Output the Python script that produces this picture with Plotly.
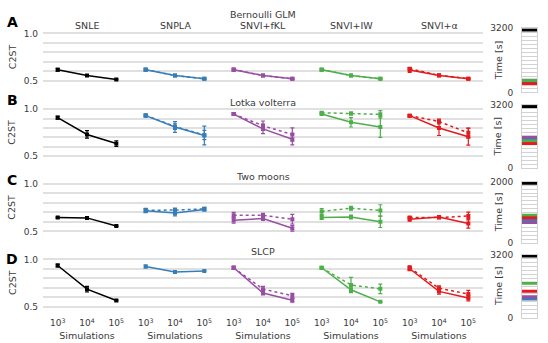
import plotly.graph_objects as go

W, H = 548, 343
FONT = "DejaVu Sans"

# ── Data ────────────────────────────────────
SIMS = [1e3, 1e4, 1e5]
SIM_TICKS = ["10<sup>3</sup>", "10<sup>4</sup>", "10<sup>5</sup>"]
TASKS = ["Bernoulli GLM", "Lotka volterra", "Two moons", "SLCP"]
PANELS = ["A", "B", "C", "D"]
METHODS = ["SNLE", "SNPLA", "SNVI+fKL", "SNVI+IW", "SNVI+α"]
COLORS = ["#000000", "#377eb8", "#984ea3", "#4daf4a", "#e41a1c"]

# C2ST, solid lines, method order as METHODS
GLM_SOLID = [[0.618, 0.557, 0.516], [0.618, 0.557, 0.523], [0.618, 0.557, 0.523],
             [0.618, 0.557, 0.523], [0.615, 0.557, 0.523]]
GLM_SOLID_ERR = [[0.015, 0.004, 0.004], [0.015, 0.005, 0.005], [0.015, 0.004, 0.005],
                 [0.012, 0.004, 0.004], [0.025, 0.005, 0.006]]
GLM_DOTTED = [None, [0.62, 0.558, 0.524], [0.62, 0.558, 0.524],
              [0.62, 0.558, 0.524], [0.63, 0.56, 0.525]]
GLM_DOTTED_ERR = [None, [0.01, 0.004, 0.004], [0.01, 0.004, 0.004],
                  [0.01, 0.004, 0.004], [0.01, 0.005, 0.005]]

LV_SOLID = [[0.910, 0.731, 0.634], [0.931, 0.81, 0.72], [0.948, 0.79, 0.68],
            [0.948, 0.86, 0.81], [0.931, 0.80, 0.707]]
LV_SOLID_ERR = [[0.015, 0.04, 0.03], [0.015, 0.057, 0.1], [0.01, 0.05, 0.06],
                [0.01, 0.05, 0.11], [0.01, 0.08, 0.09]]
LV_DOTTED = [None, [0.935, 0.815, 0.725], [0.948, 0.824, 0.73],
             [0.962, 0.955, 0.945], [0.931, 0.869, 0.748]]
LV_DOTTED_ERR = [None, [0.01, 0.03, 0.05], [0.01, 0.05, 0.07],
                 [0.01, 0.015, 0.04], [0.01, 0.025, 0.05]]

TM_SOLID = [[0.646, 0.643, 0.558], [0.718, 0.694, 0.731], [0.619, 0.636, 0.534],
            [0.646, 0.653, 0.602], [0.629, 0.653, 0.585]]
TM_SOLID_ERR = [[0.005, 0.005, 0.004], [0.02, 0.03, 0.015], [0.03, 0.02, 0.03],
                [0.02, 0.02, 0.06], [0.02, 0.01, 0.05]]
TM_DOTTED = [None, [0.724, 0.725, 0.738], [0.67, 0.67, 0.629],
             [0.711, 0.745, 0.721], [0.646, 0.646, 0.663]]
TM_DOTTED_ERR = [None, [0.02, 0.02, 0.015], [0.03, 0.02, 0.05],
                 [0.03, 0.02, 0.06], [0.01, 0.01, 0.04]]

SLCP_SOLID = [[0.935, 0.685, 0.565], [0.925, 0.866, 0.877], [0.911, 0.644, 0.568],
              [0.911, 0.678, 0.551], [0.901, 0.661, 0.592]]
SLCP_SOLID_ERR = [[0.015, 0.03, 0.005], [0.015, 0.01, 0.005], [0.015, 0.02, 0.02],
                  [0.01, 0.02, 0.005], [0.02, 0.03, 0.03]]
SLCP_DOTTED = [None, None, [0.911, 0.685, 0.616],
               [0.911, 0.729, 0.688], [0.911, 0.695, 0.633]]
SLCP_DOTTED_ERR = [None, None, [0.015, 0.03, 0.025],
                   [0.01, 0.08, 0.05], [0.02, 0.025, 0.04]]

# Run times [s], method order as METHODS
TIME_MAX = [3200, 3200, 2000, 3200]
TIME_GLM = [3120, 440, 600, 598, 436]
TIME_LV = [3120, 1470, 1568, 1374, 1244]
TIME_TM = [1950, 749, 667, 903, 820]
TIME_SLCP = [3120, 942, 1056, 1738, 1332]

SOLID = [GLM_SOLID, LV_SOLID, TM_SOLID, SLCP_SOLID]
SOLID_ERR = [GLM_SOLID_ERR, LV_SOLID_ERR, TM_SOLID_ERR, SLCP_SOLID_ERR]
DOTTED = [GLM_DOTTED, LV_DOTTED, TM_DOTTED, SLCP_DOTTED]
DOTTED_ERR = [GLM_DOTTED_ERR, LV_DOTTED_ERR, TM_DOTTED_ERR, SLCP_DOTTED_ERR]
TIMES = [TIME_GLM, TIME_LV, TIME_TM, TIME_SLCP]

# ── Geometry (pixels) ───────────────────────
ROW_TOP = [29.3, 107.3, 184.3, 262.0]     # y = 1.0
ROW_BOT = [78.3, 155.7, 233.3, 310.7]     # y = 0.5
TIME_BOX = [(24, 90), (103, 168), (182, 245), (257, 322)]
COL_X0, COL_W = 43, 88
TIME_X = (522, 537)

GRID = "#e0e0e0"
BOX = "#d2d2d2"
TXT = "#3a3a3a"


def px_x(a, b):
    return [a / W, b / W]


def px_y(top, bot):
    return [1 - bot / H, 1 - top / H]


fig = go.Figure()
layout = {}
ax = 0

for r in range(4):
    span = ROW_BOT[r] - ROW_TOP[r]
    ydom = px_y(ROW_TOP[r] - 0.1 * span, ROW_BOT[r] + 0.1 * span)
    for c in range(5):
        ax += 1
        xn, yn = f"x{ax}", f"y{ax}"
        color = COLORS[c]
        dotted = DOTTED[r][c]
        if dotted is not None:
            fig.add_trace(go.Scatter(
                x=SIMS, y=dotted, xaxis=xn, yaxis=yn, mode="lines+markers",
                line=dict(color=color, width=1.5, dash="dot"),
                marker=dict(symbol="square", size=4, color=color),
                error_y=dict(type="data", array=DOTTED_ERR[r][c], color=color,
                             thickness=1.2, width=2),
                showlegend=False, hoverinfo="skip",
            ))
        fig.add_trace(go.Scatter(
            x=SIMS, y=SOLID[r][c], xaxis=xn, yaxis=yn, mode="lines+markers",
            line=dict(color=color, width=1.5),
            marker=dict(symbol="square", size=4, color=color),
            error_y=dict(type="data", array=SOLID_ERR[r][c], color=color,
                         thickness=1.2, width=2),
            showlegend=False, hoverinfo="skip",
        ))
        x0 = COL_X0 + COL_W * c
        bottom = r == 3
        layout[f"xaxis{ax}"] = dict(
            domain=px_x(x0, x0 + COL_W), anchor=yn, type="log", range=[2.5, 5.5],
            showgrid=False, zeroline=False, showline=False,
            tickvals=SIMS, ticktext=SIM_TICKS, showticklabels=bottom, ticks="",
            ticklabelstandoff=5,
            tickfont=dict(size=9, color=TXT, family=FONT),
            title=dict(text="Simulations" if bottom else None, standoff=4,
                       font=dict(size=9.5, color=TXT, family=FONT)),
        )
        layout[f"yaxis{ax}"] = dict(
            domain=ydom, anchor=xn, range=[0.45, 1.05],
            tickvals=[0.5, 1.0], ticktext=["0.5", "1.0"],
            showticklabels=(c == 0), ticks="", ticklabelstandoff=4,
            showgrid=True, gridcolor=GRID, gridwidth=1.5,
            minor=dict(tick0=0.5, dtick=0.1, showgrid=True, gridcolor=GRID, gridwidth=1.5),
            zeroline=False, showline=False,
            tickfont=dict(size=9, color=TXT, family=FONT),
        )

    # time column
    ax += 1
    xn, yn = f"x{ax}", f"y{ax}"
    tmax = TIME_MAX[r]
    for c in range(5):
        t = TIMES[r][c]
        fig.add_trace(go.Scatter(
            x=[0, 1], y=[t, t], xaxis=xn, yaxis=yn, mode="lines",
            line=dict(color=COLORS[c], width=3),
            showlegend=False, hoverinfo="skip",
        ))
    layout[f"xaxis{ax}"] = dict(
        domain=px_x(*TIME_X), anchor=yn, range=[0, 1],
        showgrid=False, zeroline=False, showticklabels=False, ticks="",
        showline=True, mirror=True, linecolor=BOX, linewidth=1,
    )
    layout[f"yaxis{ax}"] = dict(
        domain=px_y(*TIME_BOX[r]), anchor=xn, range=[0, tmax],
        tickvals=[0, tmax], ticktext=["0", str(tmax)],
        ticks="", ticklabelstandoff=6,
        showgrid=True, gridcolor=BOX, gridwidth=1,
        minor=dict(tick0=0, dtick=tmax / 16, showgrid=True, gridcolor=BOX, gridwidth=1),
        zeroline=False, showline=True, mirror=True, linecolor=BOX, linewidth=1,
        tickfont=dict(size=9, color=TXT, family=FONT),
    )

# ── Annotations ─────────────────────────────
ann = []


def text(x, y, s, size=9.5, angle=0, color=TXT):
    ann.append(dict(
        x=x / W, y=1 - y / H, xref="paper", yref="paper", text=s, showarrow=False,
        xanchor="center", yanchor="middle", textangle=angle,
        font=dict(size=size, color=color, family=FONT),
    ))


col_centres = [COL_X0 + COL_W * c + COL_W / 2 for c in range(5)]
for c, m in enumerate(METHODS):
    text(col_centres[c], 21, m)

TITLE_Y = [10, 100, 177, 254]
LETTER_Y = [17, 98, 180, 262]
for r in range(4):
    text(col_centres[2], TITLE_Y[r], TASKS[r])
    text(12, LETTER_Y[r], "<b>" + PANELS[r] + "</b>", size=14, color="#000000")
    text(12, (ROW_TOP[r] + ROW_BOT[r]) / 2, "C2ST", size=9.5, angle=-90)
    text(498, sum(TIME_BOX[r]) / 2, "Time [s]", size=9.5, angle=-90)

layout.update(
    width=W, height=H,
    margin=dict(l=0, r=0, t=0, b=0),
    plot_bgcolor="white", paper_bgcolor="white",
    showlegend=False,
    annotations=ann,
    font=dict(family=FONT, color=TXT),
)
fig.update_layout(**layout)
# page margin off so the figure sits at the window's corner
fig.write_html("out.html", config={"displayModeBar": False},
               post_script="document.body.style.margin='0';")
